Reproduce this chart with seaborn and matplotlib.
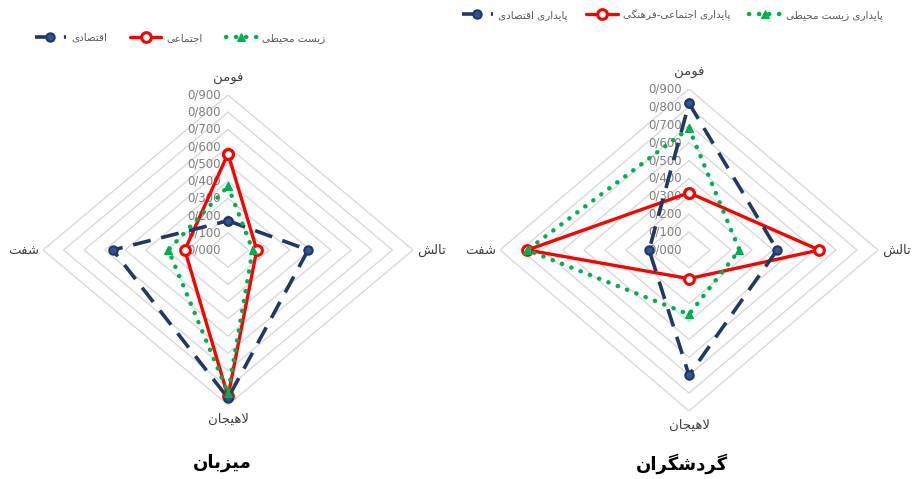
import numpy as np
import matplotlib
matplotlib.use("Agg")
import matplotlib.pyplot as plt
import seaborn as sns

# ---- داده ها ----
shahrha = ['فومن', 'تالش', 'لاهیجان', 'شفت']   # از بالا، ساعتگرد
sath_mehvar = [0.0, 0.1, 0.2, 0.3, 0.4, 0.5, 0.6, 0.7, 0.8, 0.9]
barchasb_mehvar = ['0/000', '0/100', '0/200', '0/300', '0/400',
                   '0/500', '0/600', '0/700', '0/800', '0/900']

# میزبان
mizban_eghtesadi = [0.17, 0.39, 0.86, 0.56]
mizban_ejtemai = [0.56, 0.14, 0.85, 0.21]
mizban_zist = [0.37, 0.12, 0.83, 0.29]

# گردشگران
gardeshgar_eghtesadi = [0.82, 0.42, 0.70, 0.19]
gardeshgar_ejtemai = [0.32, 0.62, 0.16, 0.77]
gardeshgar_zist = [0.68, 0.24, 0.36, 0.77]

legend_mizban = ['اقتصادی', 'اجتماعی', 'زیست محیطی']
legend_gardeshgar = ['پایداری اقتصادی', 'پایداری اجتماعی-فرهنگی', 'پایداری زیست محیطی']

# ---- شکل دادن حروف فارسی (matplotlib خودش اتصال و راست به چپ ندارد) ----
_FORMS = {
    'ا': ('\ufe8d', '\ufe8e'),
    'ب': ('\ufe8f', '\ufe90', '\ufe91', '\ufe92'),
    'پ': ('\ufb56', '\ufb57', '\ufb58', '\ufb59'),
    'ت': ('\ufe95', '\ufe96', '\ufe97', '\ufe98'),
    'ج': ('\ufe9d', '\ufe9e', '\ufe9f', '\ufea0'),
    'ح': ('\ufea1', '\ufea2', '\ufea3', '\ufea4'),
    'د': ('\ufea9', '\ufeaa'),
    'ر': ('\ufead', '\ufeae'),
    'ز': ('\ufeaf', '\ufeb0'),
    'س': ('\ufeb1', '\ufeb2', '\ufeb3', '\ufeb4'),
    'ش': ('\ufeb5', '\ufeb6', '\ufeb7', '\ufeb8'),
    'ص': ('\ufeb9', '\ufeba', '\ufebb', '\ufebc'),
    'ط': ('\ufec1', '\ufec2', '\ufec3', '\ufec4'),
    'ع': ('\ufec9', '\ufeca', '\ufecb', '\ufecc'),
    'ف': ('\ufed1', '\ufed2', '\ufed3', '\ufed4'),
    'ق': ('\ufed5', '\ufed6', '\ufed7', '\ufed8'),
    'گ': ('\ufb92', '\ufb93', '\ufb94', '\ufb95'),
    'ل': ('\ufedd', '\ufede', '\ufedf', '\ufee0'),
    'م': ('\ufee1', '\ufee2', '\ufee3', '\ufee4'),
    'ن': ('\ufee5', '\ufee6', '\ufee7', '\ufee8'),
    'ه': ('\ufee9', '\ufeea', '\ufeeb', '\ufeec'),
    'و': ('\ufeed', '\ufeee'),
    '\u06cc': ('\ufbfc', '\ufbfd', '\ufbfe', '\ufbff'),
}


def fa(matn):
    matn = matn.replace('\u064a', '\u06cc')
    out = []
    i, n = 0, len(matn)
    while i < n:
        ch = matn[i]
        if ch not in _FORMS:
            out.append(ch)
            i += 1
            continue
        prev = matn[i - 1] if i > 0 else ''
        joins_prev = prev in _FORMS and len(_FORMS[prev]) == 4
        if ch == 'ل' and i + 1 < n and matn[i + 1] == 'ا':
            out.append('\ufefc' if joins_prev else '\ufefb')
            i += 2
            continue
        nxt = matn[i + 1] if i + 1 < n else ''
        f = _FORMS[ch]
        joins_next = len(f) == 4 and nxt in _FORMS
        if joins_prev and joins_next:
            out.append(f[3])
        elif joins_prev:
            out.append(f[1])
        elif joins_next:
            out.append(f[2])
        else:
            out.append(f[0])
        i += 1
    return ''.join(reversed(out))


sns.set_theme(style="white")
plt.rcParams['font.family'] = ['DejaVu Sans']

NAVY = '#1f3864'
RED = '#ff0000'
GREEN = '#00b050'
GRID = '#d9d9d9'

zavaya = np.linspace(0, 2 * np.pi, len(shahrha) + 1)   # آخرین زاویه برای بستن چندضلعی


def radar(ax, eghtesadi, ejtemai, zist, barchasbha):
    ax.set_theta_zero_location('N')
    ax.set_theta_direction(-1)
    ax.grid(False)
    ax.set_xticks([])
    ax.set_yticks([])
    ax.spines['polar'].set_visible(False)
    ax.patch.set_visible(False)

    # حلقه های لوزی شکل
    for r in sath_mehvar[1:]:
        ax.plot(zavaya, [r] * len(zavaya), color=GRID, lw=1, zorder=1)

    sns.lineplot(x=zavaya, y=eghtesadi + eghtesadi[:1], ax=ax, sort=False, estimator=None,
                 legend=False, color=NAVY, lw=2.6, linestyle=(0, (5, 3)),
                 marker='o', markersize=6, markerfacecolor='#2f5597', markeredgecolor=NAVY,
                 markeredgewidth=1.5, label=barchasbha[0], zorder=4, clip_on=False)
    sns.lineplot(x=zavaya, y=ejtemai + ejtemai[:1], ax=ax, sort=False, estimator=None,
                 legend=False, color=RED, lw=2.4, linestyle='-',
                 marker='o', markersize=7, markerfacecolor='white', markeredgecolor=RED,
                 markeredgewidth=2.2, label=barchasbha[1], zorder=3, clip_on=False)
    sns.lineplot(x=zavaya, y=zist + zist[:1], ax=ax, sort=False, estimator=None,
                 legend=False, color=GREEN, lw=3.2, linestyle=(0, (0.05, 2.2)),
                 dash_capstyle='round', marker='^', markersize=6,
                 markerfacecolor=GREEN, markeredgecolor=GREEN,
                 label=barchasbha[2], zorder=5, clip_on=False)

    ax.set_ylim(0, 0.9)
    ax.set_xlabel('')
    ax.set_ylabel('')
    ax.set_aspect('auto')

    for r, lbl in zip(sath_mehvar, barchasb_mehvar):
        ax.annotate(lbl, xy=(0, r), xytext=(-5, 0), textcoords='offset points',
                    ha='right', va='center', fontsize=8.5, color='#7f7f7f', zorder=2)

    jahat = [((0, 7), 'center', 'bottom'), ((3, 0), 'left', 'center'),
             ((0, -6), 'center', 'top'), ((-3, 0), 'right', 'center')]
    for teta, shahr, (off, ha, va) in zip(zavaya, shahrha, jahat):
        ax.annotate(fa(shahr), xy=(teta, 0.9), xytext=off, textcoords='offset points',
                    ha=ha, va=va, fontsize=9.5, color='#404040')


fig = plt.figure(figsize=(9.16, 4.79), dpi=100)
ax1 = fig.add_axes([43 / 916, 74 / 479, 370 / 916, 310 / 479], projection='polar')
ax2 = fig.add_axes([500 / 916, 68 / 479, 378 / 916, 322 / 479], projection='polar')

radar(ax1, mizban_eghtesadi, mizban_ejtemai, mizban_zist, [fa(t) for t in legend_mizban])
radar(ax2, gardeshgar_eghtesadi, gardeshgar_ejtemai, gardeshgar_zist,
      [fa(t) for t in legend_gardeshgar])

h1, l1 = ax1.get_legend_handles_labels()
fig.legend(h1[-3:], l1[-3:], loc='center', bbox_to_anchor=(180 / 916, 1 - 38 / 479), ncol=3,
           frameon=False, fontsize=7.5, handlelength=3.0, columnspacing=2.2,
           handletextpad=0.5, labelcolor='#595959')
h2, l2 = ax2.get_legend_handles_labels()
fig.legend(h2[-3:], l2[-3:], loc='center', bbox_to_anchor=(672 / 916, 1 - 15 / 479), ncol=3,
           frameon=False, fontsize=7.5, handlelength=3.0, columnspacing=1.8,
           handletextpad=0.5, labelcolor='#595959')

fig.text(222 / 916, 1 - 463 / 479, fa('میزبان'), ha='center', va='center',
         fontsize=13, fontweight='bold', color='black')
fig.text(682 / 916, 1 - 464 / 479, fa('گردشگران'), ha='center', va='center',
         fontsize=13, fontweight='bold', color='black')

fig.savefig('out.png', dpi=100, facecolor='white')
